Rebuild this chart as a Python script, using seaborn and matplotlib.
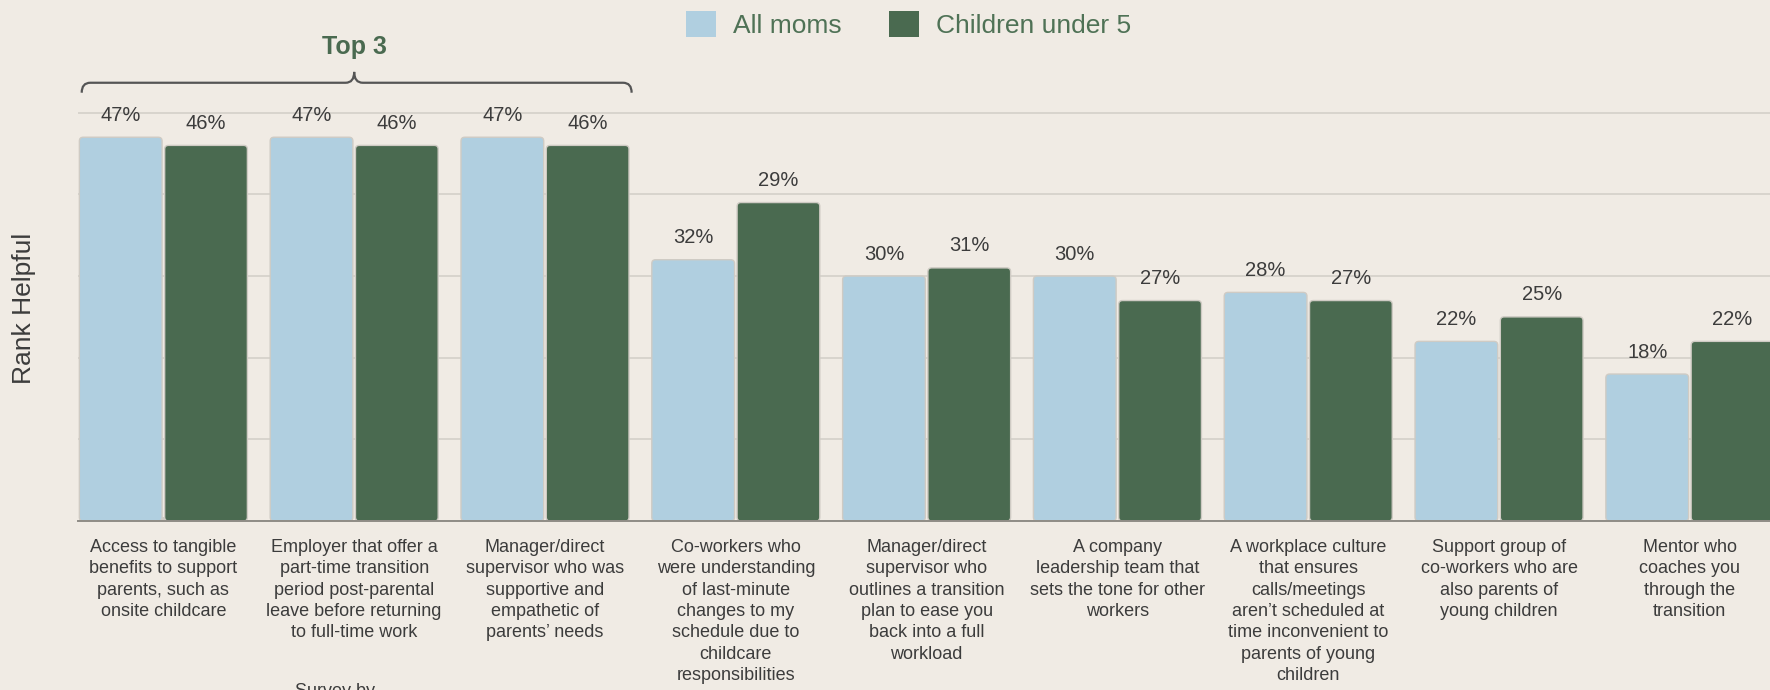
import seaborn as sns
import matplotlib.pyplot as plt
import pandas as pd
from matplotlib.path import Path
from matplotlib.patches import PathPatch, FancyBboxPatch, Patch

categories = [
    "Access to tangible\nbenefits to support\nparents, such as\nonsite childcare",
    "Employer that offer a\npart-time transition\nperiod post-parental\nleave before returning\nto full-time work",
    "Manager/direct\nsupervisor who was\nsupportive and\nempathetic of\nparents’ needs",
    "Co-workers who\nwere understanding\nof last-minute\nchanges to my\nschedule due to\nchildcare\nresponsibilities",
    "Manager/direct\nsupervisor who\noutlines a transition\nplan to ease you\nback into a full\nworkload",
    "A company\nleadership team that\nsets the tone for other\nworkers",
    "A workplace culture\nthat ensures\ncalls/meetings\naren’t scheduled at\ntime inconvenient to\nparents of young\nchildren",
    "Support group of\nco-workers who are\nalso parents of\nyoung children",
    "Mentor who\ncoaches you\nthrough the\ntransition",
]
series = ["All moms", "Children under 5"]
all_moms = [47, 47, 47, 32, 30, 30, 28, 22, 18]
under_5 = [46, 46, 46, 39, 31, 27, 27, 25, 22]   # bar heights as drawn
all_moms_labels = ["47%", "47%", "47%", "32%", "30%", "30%", "28%", "22%", "18%"]
under_5_labels = ["46%", "46%", "46%", "29%", "31%", "27%", "27%", "25%", "22%"]

bg = "#f0ebe4"
blue = "#b0cfe0"
green = "#4a6a50"
txt = "#3c3c3c"

df = pd.DataFrame({
    "cat": categories * 2,
    "group": [series[0]] * len(categories) + [series[1]] * len(categories),
    "value": all_moms + under_5,
})

sns.set_theme(style="white")
plt.rcParams["font.family"] = ["Liberation Sans", "DejaVu Sans"]

fig = plt.figure(figsize=(17.7, 6.9), dpi=100, facecolor=bg)
ax = fig.add_axes([77.7 / 1770, 0.2449, 1 - 77.7 / 1770, 0.6154])
ax.set_facecolor(bg)

sns.barplot(data=df, x="cat", y="value", hue="group", order=categories, hue_order=series,
            palette=[blue, green], width=0.894, gap=0.03, edgecolor="#cfcbc4", linewidth=1,
            saturation=1, ax=ax, zorder=2)
ax.get_legend().remove()

# value labels
for cont, labs in zip(ax.containers, [all_moms_labels, under_5_labels]):
    for bar, lab in zip(cont, labs):
        ax.annotate(lab, (bar.get_x() + bar.get_width() / 2, bar.get_height()),
                    xytext=(0, 22), textcoords="offset pixels", ha="center", va="center",
                    fontsize=14.5, color=txt)

ax.set_ylim(0, 52)
ax.set_xlim(-0.449, 8.42)

# slightly rounded bar corners
asp = (52 / 424.6) / (8.869 / 1692.3)
for p in list(ax.patches):
    rb = FancyBboxPatch((p.get_x(), p.get_y()), p.get_width(), p.get_height(),
                        boxstyle="round,pad=0,rounding_size=0.02", mutation_aspect=asp,
                        facecolor=p.get_facecolor(), edgecolor=p.get_edgecolor(),
                        linewidth=p.get_linewidth(), zorder=2)
    p.remove()
    ax.add_patch(rb)

ax.set_yticks([0, 10, 20, 30, 40, 50])
ax.set_yticklabels([])
ax.yaxis.grid(True, color="#d6d2cb", linewidth=1.3, zorder=0)
ax.set_axisbelow(True)
for s in ["top", "right", "left"]:
    ax.spines[s].set_visible(False)
ax.spines["bottom"].set_color("#8f8c86")
ax.spines["bottom"].set_linewidth(1.4)
ax.spines["bottom"].set_zorder(3)
ax.tick_params(axis="both", length=0)
ax.tick_params(axis="x", pad=13)
ax.set_xticks(range(len(categories)))
ax.set_xticklabels(categories, fontsize=13, color=txt, linespacing=1.33, va="top")
ax.set_xlabel("")
ax.set_ylabel("Rank Helpful", fontsize=19, color=txt, va="center")
ax.yaxis.set_label_coords(-0.0319, 0.5)

handles = [Patch(facecolor=c, edgecolor="none") for c in [blue, green]]
fig.legend(handles, series, loc="center", bbox_to_anchor=(0.5134, 0.9648), ncol=2,
           frameon=False, fontsize=19, labelcolor="#4f7256", handlelength=1.14,
           handleheight=1.14, handletextpad=0.64, columnspacing=1.8, borderpad=0)

# "Top 3" brace over the first three groups
x0, x1, xc = -0.428, 2.454, 1.0
ylow, ymid, ytip = 52.45, 53.67, 55.0
rx = 0.045
verts = [(x0, ylow), (x0, ymid), (x0 + rx, ymid), (xc - rx, ymid), (xc, ymid), (xc, ytip),
         (xc, ymid), (xc + rx, ymid), (x1 - rx, ymid), (x1, ymid), (x1, ylow)]
codes = [Path.MOVETO, Path.CURVE3, Path.CURVE3, Path.LINETO, Path.CURVE3, Path.CURVE3,
         Path.CURVE3, Path.CURVE3, Path.LINETO, Path.CURVE3, Path.CURVE3]
ax.add_patch(PathPatch(Path(verts, codes), fill=False, edgecolor="#555555", linewidth=1.6,
                       clip_on=False))
ax.text(1.0, 58.1, "Top 3", ha="center", va="center", fontsize=18, fontweight="bold",
        color=green)

fig.text(335 / 1770, 0.010, "Survey by", ha="center", va="top", fontsize=13, color=txt)

fig.savefig("out.png", dpi=100, facecolor=bg)
